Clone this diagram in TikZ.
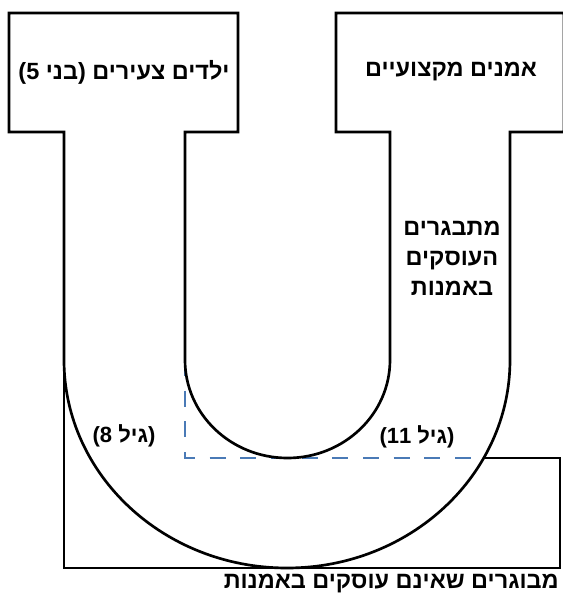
\documentclass[tikz,border=0pt]{standalone}
\usepackage{fontspec}
\setmainfont{Liberation Sans}
\newfontfamily\hebfont[Script=Hebrew]{Liberation Sans}
\TeXXeTstate=1
\definecolor{dashblue}{RGB}{74,122,182}
\begin{document}
\begin{tikzpicture}[x=0.75pt, y=-0.75pt, line width=2pt,
  lbl/.style={font=\hebfont\bfseries\fontsize{17.6}{22.5}\selectfont, align=center, inner sep=0pt},
  age/.style={align=center, inner sep=0pt, font=\hebfont\bfseries\fontsize{16.5}{18}\selectfont}]
\useasboundingbox (0,0) rectangle (562,597);
% bottom box and the border of the age zone
\coordinate (cross) at (484,458);
\draw (cross) -- (560,458) -- (560,568) -- (64,568) -- (64,360);
\draw[dashblue, line width=1.8pt, dashed, dash pattern=on 12pt off 11pt] (185,360) -- (185,458) -- (cross);
% the U with its two boxes
\draw (9,13) -- (238,13) -- (238,132) -- (185,132) -- (185,360)
  arc[start angle=180, end angle=0, x radius=102.5, y radius=98]
  -- (390,132) -- (336,132) -- (336,13) -- (564,13) -- (564,132) -- (510,132) -- (510,360)
  arc[start angle=0, end angle=180, x radius=223, y radius=208]
  -- (64,132) -- (9,132) -- cycle;
% labels
\node[lbl] (young) at (124,72) {\beginR ילדים צעירים (בני 5)\endR};
\node[lbl] (pro) at (451,72) {\beginR אמנים מקצועיים\endR};
\node[lbl] (teen) at (452,258) {\beginR מתבגרים\endR\\\beginR העוסקים\endR\\\beginR באמנות\endR};
\node[age] (age8) at (124,436) {\beginR (גיל 8)\endR};
\node[age] (age11) at (417,437) {\beginR (גיל 11)\endR};
\node[lbl, anchor=east] (adult) at (560,584) {\beginR מבוגרים שאינם עוסקים באמנות\endR};
\end{tikzpicture}
\end{document}
